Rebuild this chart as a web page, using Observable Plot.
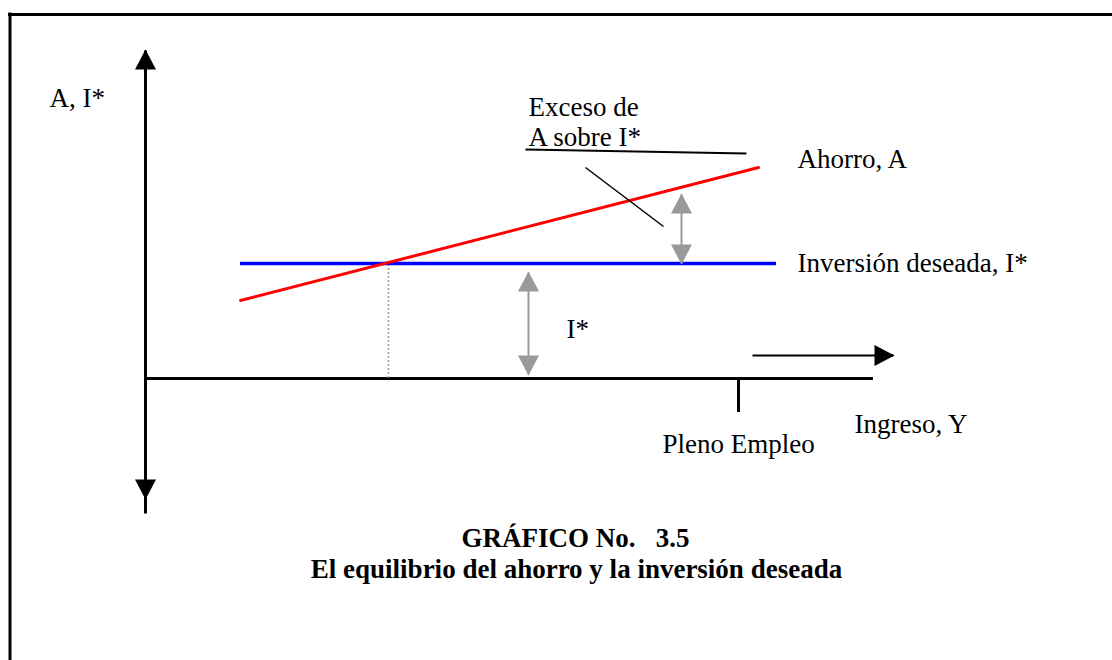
<!DOCTYPE html>
<html>
<head>
<meta charset="utf-8">
<script src="https://cdn.jsdelivr.net/npm/d3@7"></script>
<script src="https://cdn.jsdelivr.net/npm/@observablehq/plot@0.6"></script>
<style>
  body { margin: 0; background: #fff; }
  svg { display: block; }
</style>
</head>
<body>
<div id="chart"></div>
<script>
// ---- Data, in chart units: Y = income (horizontal), A / I* = saving, investment (vertical)
const investment = 11.5;                                   // I*, desired investment (flat)
const investmentSpan = [9.5, 63.1];                        // income range of the I* line
const saving = [{Y: 9.5, A: 7.8}, {Y: 61.3, A: 21.1}];     // Ahorro, A
const equilibriumY = 24.3;                                  // where A = I*
const fullEmploymentY = 59.3;                               // Pleno Empleo
const fullEmploymentTick = [0, -3.4];
const yAxisSpan = [-13.5, 32.8];
const yAxisDownTip = -12;
const xAxisEnd = 72.8;
const incomeArrow = [{Y1: 60.7, Y2: 74.8, A: 2.3}];
const gapArrows = [
  {Y: 53.6, A1: investment, A2: 18.4},   // exceso de A sobre I*
  {Y: 38.3, A1: 0.4, A2: 10.6}           // I*
];
const leaderLine = [{Y1: 44.0, A1: 21.1, Y2: 51.8, A2: 15.2}];
const underline = [{Y1: 38.0, A1: 22.9, Y2: 60.1, A2: 22.5}];
const frame = {left: -13.55, top: 36.4, right: 97, bottom: -29};

const labelText = ["A, I*", "Exceso de", "A sobre I*", "Ahorro, A", "Inversión deseada, I*", "I*", "Ingreso, Y", "Pleno Empleo"];
const labelY = [-9.6, 38.3, 38.3, 65.2, 65.2, 42.1, 70.9, 51.7];
const labelA = [28.05, 27.15, 24.15, 21.95, 11.55, 4.95, -4.55, -6.55];
const labels = labelText.map((text, i) => ({text, Y: labelY[i], A: labelA[i]}));

const titleText = ["GRÁFICO No.\u00a0\u00a0\u00a03.5", "El equilibrio del ahorro y la inversión deseada"];
const titleY = [43.0, 43.1];
const titleA = [-15.95, -19.05];
const titles = titleText.map((text, i) => ({text, Y: titleY[i], A: titleA[i]}));

// ---- filled arrowhead marker
function head(color) {
  const ns = "http://www.w3.org/2000/svg";
  const m = document.createElementNS(ns, "marker");
  m.setAttribute("viewBox", "-21 -11 24 22");
  m.setAttribute("markerWidth", 24);
  m.setAttribute("markerHeight", 22);
  m.setAttribute("refX", 0);
  m.setAttribute("refY", 0);
  m.setAttribute("markerUnits", "userSpaceOnUse");
  m.setAttribute("orient", "auto-start-reverse");
  m.setAttribute("fill", color);
  m.setAttribute("stroke", "none");
  const p = document.createElementNS(ns, "path");
  p.setAttribute("d", "M1,0L-19,-10.5L-19,10.5Z");
  m.appendChild(p);
  return m;
}

const serif = "'Liberation Serif', 'Times New Roman', serif";
const fs = 27;

const chart = Plot.plot({
  width: 1112,
  height: 660,
  margin: 0,
  style: {background: "#fff", fontFamily: serif, fontSize: fs + "px", color: "black"},
  x: {domain: [0, 100], range: [145, 1145], axis: null},
  y: {domain: [0, 30], range: [378, 78], axis: null},
  marks: [
    // frame
    Plot.ruleY([frame.top], {x1: frame.left, x2: frame.right, stroke: "black", strokeWidth: 3, strokeLinecap: "square"}),
    Plot.ruleX([frame.left], {y1: frame.top, y2: frame.bottom, stroke: "black", strokeWidth: 3, strokeLinecap: "square"}),
    // axes
    Plot.link([yAxisSpan], {x1: 0, x2: 0, y1: d => d[0], y2: d => d[1], stroke: "black", strokeWidth: 3, markerEnd: head}),
    Plot.link([yAxisDownTip], {x1: 0, x2: 0, y1: 0, y2: d => d, stroke: "black", strokeWidth: 3, markerEnd: head}),
    Plot.ruleY([0], {x1: 0, x2: xAxisEnd, stroke: "black", strokeWidth: 3}),
    Plot.ruleX([fullEmploymentY], {y1: fullEmploymentTick[0], y2: fullEmploymentTick[1], stroke: "black", strokeWidth: 3}),
    Plot.link(incomeArrow, {x1: "Y1", x2: "Y2", y1: "A", y2: "A", stroke: "black", strokeWidth: 2, markerEnd: head}),
    // equilibrium dotted guide
    Plot.ruleX([equilibriumY], {y1: 0, y2: investment, stroke: "#999", strokeWidth: 1.5, strokeDasharray: "2,2"}),
    // curves
    Plot.ruleY([investment], {x1: investmentSpan[0], x2: investmentSpan[1], stroke: "#0000ff", strokeWidth: 3.5}),
    Plot.line(saving, {x: "Y", y: "A", stroke: "#ff0000", strokeWidth: 3}),
    // gray double arrows
    Plot.link(gapArrows, {x1: "Y", x2: "Y", y1: "A1", y2: "A2", stroke: "#999999", strokeWidth: 2, markerStart: head, markerEnd: head}),
    // annotation lines
    Plot.link(leaderLine, {x1: "Y1", y1: "A1", x2: "Y2", y2: "A2", stroke: "black", strokeWidth: 1.5}),
    Plot.link(underline, {x1: "Y1", y1: "A1", x2: "Y2", y2: "A2", stroke: "black", strokeWidth: 2}),
    // labels
    Plot.text(labels, {x: "Y", y: "A", text: "text", textAnchor: "start", fill: "black", fontSize: fs, fontFamily: serif}),
    Plot.text(titles, {x: "Y", y: "A", text: "text", textAnchor: "middle", fill: "black", fontSize: fs, fontFamily: serif, fontWeight: "bold"})
  ]
});

document.getElementById("chart").appendChild(chart);
</script>
</body>
</html>
